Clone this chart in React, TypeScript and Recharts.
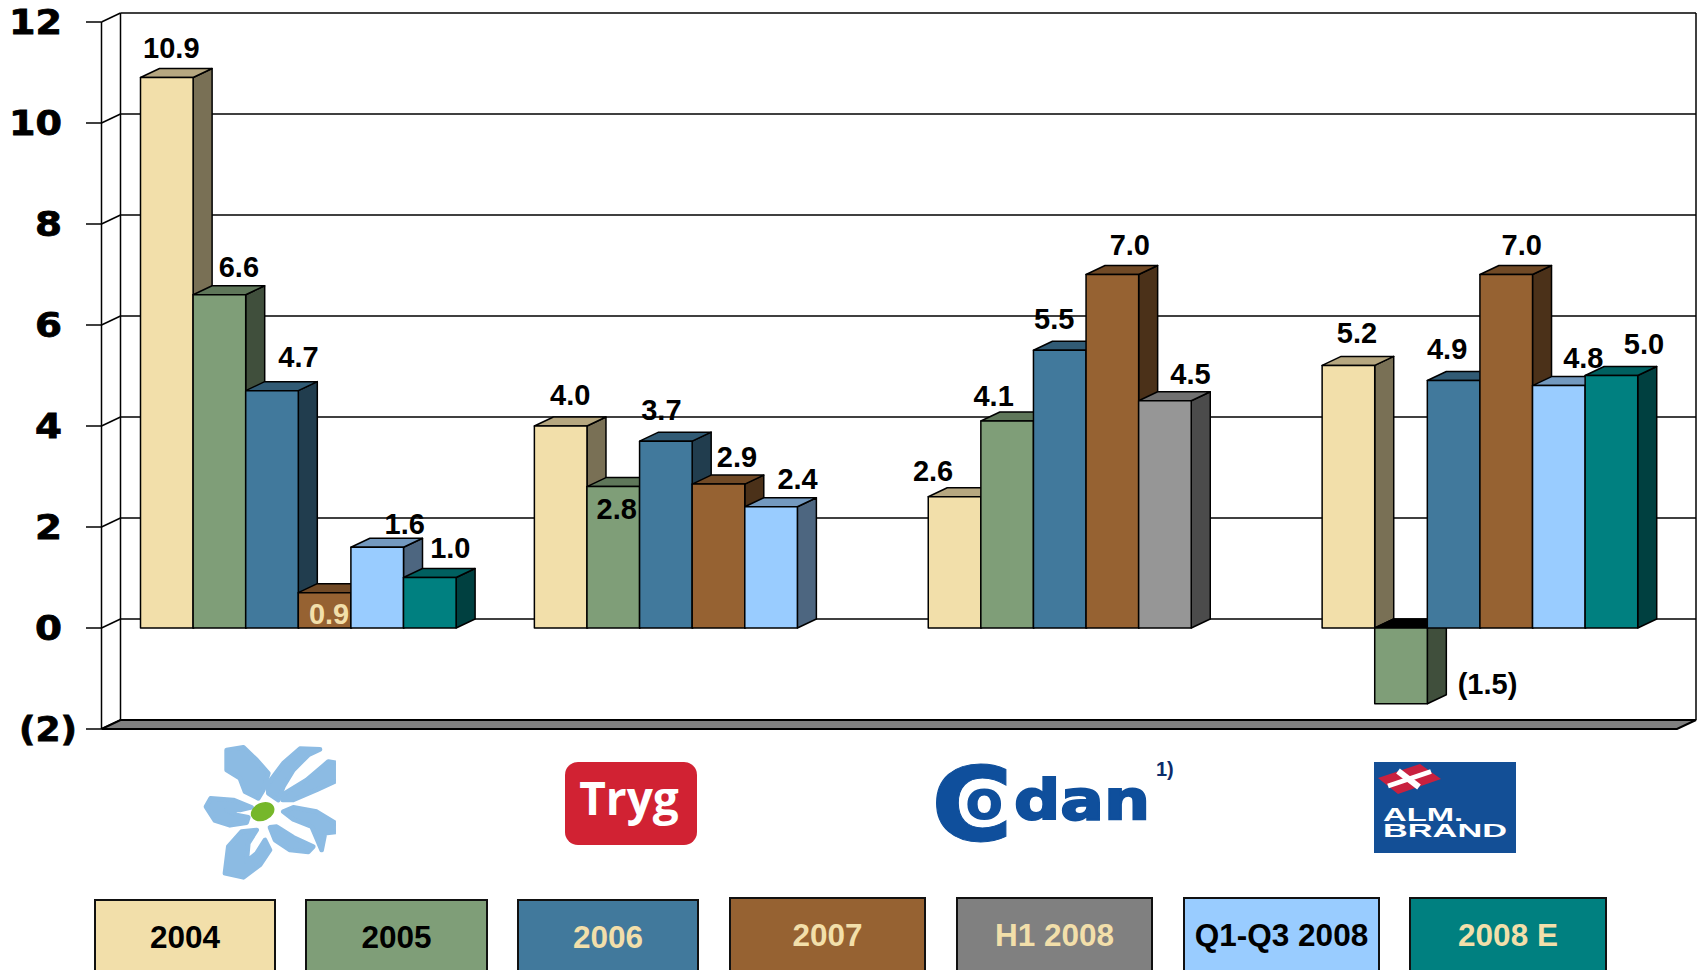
import React from "react";
import { BarChart, Bar, XAxis, YAxis, CartesianGrid, LabelList } from "recharts";

const companies = ["Topdanmark", "Tryg", "Codan", "Alm. Brand"];
const yTicks = [-2, 0, 2, 4, 6, 8, 10, 12];

// heights as drawn in the picture (the 0.9 bar really is drawn at about 0.7)
const values2004 = [10.9, 4.0, 2.6, 5.2];
const values2005 = [6.6, 2.8, 4.1, -1.5];
const values2006 = [4.7, 3.7, 5.5, 4.9];
const values2007 = [0.7, 2.85, 7.0, 7.0];
const valuesH1 = [null, null, 4.5, null];
const valuesQ3 = [1.6, 2.4, null, 4.8];
const values2008E = [1.0, null, null, 5.0];

const labels2004 = ["10.9", "4.0", "2.6", "5.2"];
const labels2005 = ["6.6", "2.8", "4.1", "(1.5)"];
const labels2006 = ["4.7", "3.7", "5.5", "4.9"];
const labels2007 = ["0.9", "2.9", "7.0", "7.0"];
const labelsH1 = ["", "", "4.5", ""];
const labelsQ3 = ["1.6", "2.4", "", "4.8"];
const labels2008E = ["1.0", "", "", "5.0"];

// label nudges from the top centre of each bar
const nudge2004 = [[3, -29], [8, -30], [-23, -25], [7, -31]];
const nudge2005 = [[18, -27], [2, 23], [-15, -24], [85, 57]];
const nudge2006 = [[25, -33], [-6, -30], [-7, -30], [-8, -31]];
const nudge2007 = [[3, 22], [17, -26], [16, -29], [14, -29]];
const nudgeH1 = [[0, 0], [0, 0], [24, -26], [0, 0]];
const nudgeQ3 = [[26, -22], [25, -27], [0, 0], [23, -27]];
const nudge2008E = [[19, -29], [0, 0], [0, 0], [31, -31]];

// every series gets a stack id so the slots stay in this order; H1 and Q1-Q3 share one
const series = [
  { key: "y2004", stackId: "a", name: "2004", color: "#F2DFAA", values: values2004, labels: labels2004, nudge: nudge2004 },
  { key: "y2005", stackId: "b", name: "2005", color: "#7F9E78", values: values2005, labels: labels2005, nudge: nudge2005 },
  { key: "y2006", stackId: "c", name: "2006", color: "#41799C", values: values2006, labels: labels2006, nudge: nudge2006 },
  { key: "y2007", stackId: "d", name: "2007", color: "#966232", values: values2007, labels: labels2007, nudge: nudge2007 },
  { key: "h1", stackId: "e", name: "H1 2008", color: "#969696", values: valuesH1, labels: labelsH1, nudge: nudgeH1 },
  { key: "q3", stackId: "e", name: "Q1-Q3 2008", color: "#99CCFF", values: valuesQ3, labels: labelsQ3, nudge: nudgeQ3 },
  { key: "e2008", stackId: "f", name: "2008 E", color: "#008080", values: values2008E, labels: labels2008E, nudge: nudge2008E },
];

const data = companies.map((company, i) => {
  const row: Record<string, any> = { company };
  series.forEach((s) => (row[s.key] = s.values[i]));
  return row;
});

const legendBoxes = [
  { name: "2004", bg: "#F2DFAA", fg: "#000", left: 94, right: 276, top: 899, textY: 937 },
  { name: "2005", bg: "#7F9E78", fg: "#000", left: 305, right: 488, top: 899, textY: 937 },
  { name: "2006", bg: "#41799C", fg: "#F2DFAA", left: 517, right: 699, top: 899, textY: 937 },
  { name: "2007", bg: "#966232", fg: "#F2DFAA", left: 729, right: 926, top: 897, textY: 935 },
  { name: "H1 2008", bg: "#808080", fg: "#F2DFAA", left: 956, right: 1153, top: 897, textY: 935 },
  { name: "Q1-Q3 2008", bg: "#99CCFF", fg: "#000", left: 1183, right: 1380, top: 897, textY: 935 },
  { name: "2008 E", bg: "#008080", fg: "#F2DFAA", left: 1409, right: 1607, top: 897, textY: 935 },
];

const DX = 19;
const DY = -9;
const LEFT = 101.5;
const RIGHT = 1677;
const TOP = 22;
const BOTTOM = 729;
const STROKE = "#000";

function shade(hex: string, k: number) {
  const n = parseInt(hex.slice(1), 16);
  const c = [(n >> 16) & 255, (n >> 8) & 255, n & 255].map((v) => Math.round(v * k));
  return `rgb(${c[0]},${c[1]},${c[2]})`;
}

const Box3D = ({ x, y, width, height, color, negative }: any) => {
  const top = Math.min(y, y + height);
  const bottom = Math.max(y, y + height);
  const r = x + width;
  return (
    <g stroke={STROKE} strokeWidth={1.5} strokeLinejoin="round">
      <polygon
        points={`${r},${top} ${r + DX},${top + DY} ${r + DX},${bottom + DY} ${r},${bottom}`}
        fill={shade(color, 0.5)}
      />
      <polygon
        points={`${x},${top} ${x + DX},${top + DY} ${r + DX},${top + DY} ${r},${top}`}
        fill={negative ? "#000" : shade(color, 0.75)}
      />
      <rect x={x} y={top} width={width} height={bottom - top} fill={color} />
    </g>
  );
};

const WallLine = (props: any) => {
  const { x1, x2, y1, index } = props;
  const isFloor = Math.abs(y1 - BOTTOM) < 1;
  const isTop = Math.abs(y1 - TOP) < 1;
  return (
    <g key={`wall-${index}`} stroke="#000" strokeWidth={1.5} fill="none">
      <line x1={x1} y1={y1} x2={x1 + DX} y2={y1 + DY} />
      {isFloor ? (
        <polygon
          points={`${x1},${y1} ${x1 + DX},${y1 + DY} ${x2 + DX},${y1 + DY} ${x2},${y1}`}
          fill="#808080"
          strokeWidth={2}
        />
      ) : (
        <line x1={x1 + DX} y1={y1 + DY} x2={x2 + DX} y2={y1 + DY} />
      )}
      {isTop && (
        <>
          <line x1={x1 + DX} y1={TOP + DY} x2={x1 + DX} y2={BOTTOM + DY} />
          <line x1={x2 + DX} y1={TOP + DY} x2={x2 + DX} y2={BOTTOM + DY} />
        </>
      )}
    </g>
  );
};

const YTick = ({ x, y, payload }: any) => {
  const v = payload.value;
  const text = v < 0 ? `(${-v})` : String(v);
  const stretch = v < 0 ? 58 : text.length === 2 ? 53 : 27;
  return (
    <text
      x={v < 0 ? x + 16 : x + 1}
      y={y}
      dy={12}
      textAnchor="end"
      fontFamily="DejaVu Sans"
      fontWeight="bold"
      fontSize={33}
      textLength={stretch}
      lengthAdjust="spacingAndGlyphs"
      stroke="#000"
      strokeWidth={0.8}
      fill="#000"
    >
      {text}
    </text>
  );
};

const renderLabel = (s: any) => (props: any) => {
  const { x, y, width, height, index } = props;
  const text = s.labels[index];
  if (!text || s.values[index] == null) return null;
  const top = Math.min(y, y + height);
  const [dx, dy] = s.nudge[index];
  const cream = text === "0.9";
  return (
    <text
      x={x + width / 2 + dx + 1.5}
      y={top + dy - 1}
      dy={10}
      textAnchor="middle"
      fontFamily="Liberation Sans"
      fontWeight="bold"
      fontSize={29}
      fill={cream ? "#F2DFAA" : "#000"}
    >
      {text}
    </text>
  );
};

const Logos = () => (
  <svg width={1697} height={970} style={{ position: "absolute", left: 0, top: 0 }}>
    <defs>
      <clipPath id="flowerClip">
        <rect x={560} y={585} width={448} height={410} />
      </clipPath>
    </defs>
    {/* flower, traced in a 3x box */}
    <g
      transform="translate(0,550) scale(0.3333)"
      fill="#8CBBE3"
      stroke="#8CBBE3"
      strokeWidth={14}
      strokeLinejoin="round"
      clipPath="url(#flowerClip)"
    >
      <path d="M680 600 L730 592 L770 630 L805 670 L790 720 L775 745 L735 725 L720 685 L680 660 Z" />
      <path d="M805 700 L850 640 L900 596 L960 598 L925 615 L880 660 L850 710 L835 750 L805 730 Z" />
      <path d="M985 635 L1015 640 L1015 690 L950 720 L880 750 L848 750 L855 730 L920 690 Z" />
      <path d="M850 785 L880 772 L950 785 L1015 825 L1015 845 L975 850 L965 900 L935 830 L880 808 Z" />
      <path d="M810 832 L830 830 L880 862 L940 890 L925 906 L870 900 L825 870 Z" />
      <path d="M770 840 L725 845 L685 890 L675 970 L730 982 L780 945 L810 900 L795 870 L770 910 L740 935 L745 880 Z" />
      <path d="M618 770 L632 745 L700 750 L755 772 L720 780 L680 780 L710 795 L745 802 L740 818 L690 826 L645 812 Z" />
      <ellipse cx={788} cy={785} rx={34} ry={24} fill="#76B72A" stroke="#76B72A" strokeWidth={6} transform="rotate(-25 788 785)" />
    </g>

    <rect x={565} y={762} width={132} height={83} rx={13} fill="#D12233" />
    <text x={629} y={815} textAnchor="middle" fontFamily="Open Sans" fontWeight="bold" fontSize={46} fill="#fff">
      Tryg
    </text>

    <g fill="#0F4F9C" stroke="#0F4F9C" fontFamily="DejaVu Sans" fontWeight="bold">
      <text x={931} y={841} fontSize={103} strokeWidth={1} textLength={82} lengthAdjust="spacingAndGlyphs">C</text>
      <text x={965} y={819} fontSize={56} stroke="#fff" strokeWidth={5} paintOrder="stroke">o</text>
      <text x={1014} y={819} fontSize={56} strokeWidth={2} textLength={136} lengthAdjust="spacingAndGlyphs">dan</text>
    </g>
    <text x={1156} y={776} fontFamily="Liberation Sans" fontWeight="bold" fontSize={20} fill="#0B2C6B">
      1)
    </text>

    <rect x={1374} y={762} width={142} height={91} fill="#134F96" />
    <polygon points="1378,778 1420,764 1441,779 1398,794" fill="#C8213F" />
    <line x1={1388} y1={786} x2={1431} y2={771.5} stroke="#fff" strokeWidth={5} />
    <line x1={1398} y1={771} x2={1419} y2={787} stroke="#fff" strokeWidth={6} />
    <g fill="#fff" fontFamily="Liberation Sans" fontWeight="bold">
      <text x={1383} y={821} fontSize={18} textLength={80} lengthAdjust="spacingAndGlyphs">ALM.</text>
      <text x={1383} y={837} fontSize={18} textLength={124} lengthAdjust="spacingAndGlyphs">BRAND</text>
    </g>
  </svg>
);

const LegendRow = () => (
  <>
    {legendBoxes.map((b) => (
      <div
        key={b.name}
        style={{
          position: "absolute",
          left: b.left,
          top: b.top,
          width: b.right - b.left,
          height: 100,
          boxSizing: "border-box",
          background: b.bg,
          border: "2px solid #111",
        }}
      >
        <div
          style={{
            position: "absolute",
            left: 0,
            right: 0,
            top: b.textY - b.top - 2 - 20,
            height: 40,
            lineHeight: "40px",
            textAlign: "center",
            color: b.fg,
            fontFamily: "Liberation Sans",
            fontWeight: "bold",
            fontSize: 31.5,
            whiteSpace: "nowrap",
          }}
        >
          {b.name}
        </div>
      </div>
    ))}
  </>
);

export default function App() {
  return (
    <div style={{ position: "absolute", left: 0, top: 0, width: 1697, height: 970, overflow: "hidden", background: "#fff" }}>
      <BarChart
        width={1697}
        height={970}
        data={data}
        barGap={0}
        barSize={52.6}
        margin={{ top: TOP, right: 1697 - RIGHT, bottom: 970 - BOTTOM, left: 0 }}
      >
        <CartesianGrid vertical={false} horizontal={WallLine as any} />
        <XAxis dataKey="company" hide padding={{ left: 0, right: 0 }} />
        <YAxis
          width={LEFT}
          domain={[-2, 12]}
          ticks={yTicks}
          interval={0}
          tickSize={15.5}
          tickMargin={25}
          tick={YTick as any}
          axisLine={{ stroke: "#000", strokeWidth: 1.5 }}
          tickLine={{ stroke: "#000", strokeWidth: 1.5 }}
        />
        {series.map((s) => (
          <Bar
            key={s.key}
            dataKey={s.key}
            name={s.name}
            stackId={s.stackId}
            fill={s.color}
            isAnimationActive={false}
            shape={(p: any) =>
              s.values[p.index] == null ? (
                <g />
              ) : (
                <Box3D {...p} color={s.color} negative={(s.values[p.index] as number) < 0} />
              )
            }
          >
            <LabelList dataKey={s.key} content={renderLabel(s)} />
          </Bar>
        ))}
      </BarChart>
      <Logos />
      <LegendRow />
    </div>
  );
}
